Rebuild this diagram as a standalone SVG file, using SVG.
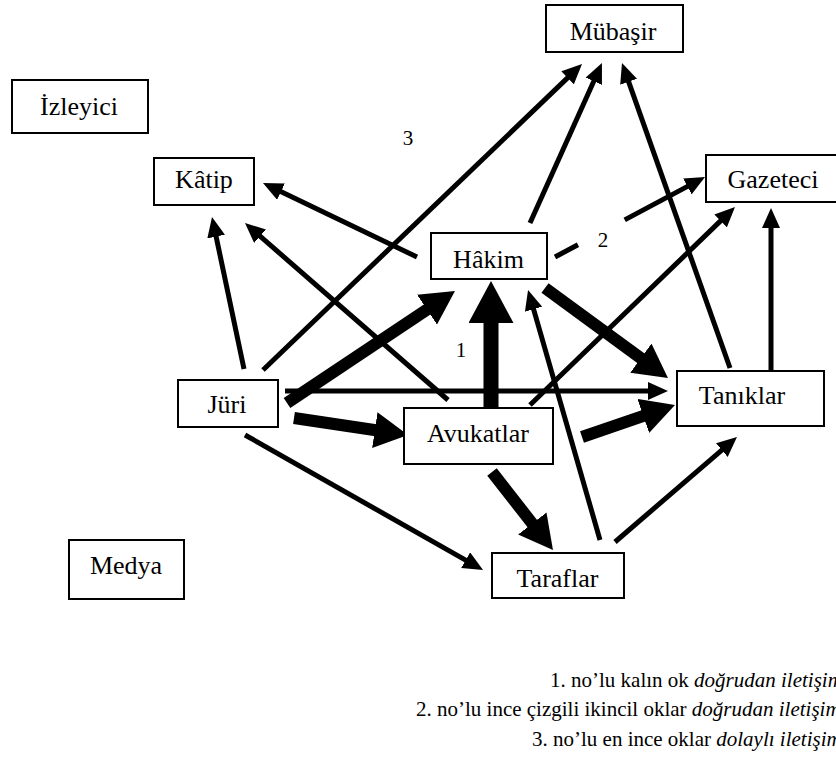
<svg xmlns="http://www.w3.org/2000/svg" width="836" height="769" viewBox="0 0 836 769">
<style>
.box{fill:#fff;stroke:#000;stroke-width:2}
.lbl{font-size:26px;fill:#000;text-anchor:middle}
.num{font-size:21px;fill:#000;text-anchor:middle}
.leg{font-size:21px;fill:#000}
.thin{stroke:#000;stroke-width:5;fill:none;marker-end:url(#ah)}
.thick{stroke:#000;stroke-width:12;fill:none;marker-end:url(#ahk)}
</style>
<defs>
<marker id="ah" viewBox="0 0 4 3.6" refX="1" refY="1.8" markerWidth="4" markerHeight="3.6" orient="auto" markerUnits="strokeWidth"><path d="M0,0 L4,1.8 L0,3.6 z" fill="#000"/></marker>
<marker id="ahk" viewBox="0 0 2.8 3" refX="0.8" refY="1.5" markerWidth="2.8" markerHeight="3" orient="auto" markerUnits="strokeWidth"><path d="M0,0 L2.8,1.5 L0,3 z" fill="#000"/></marker>
</defs>
<rect width="836" height="769" fill="#fff"/>
<g id="connectors">
<line class="thin" x1="263" y1="370" x2="571.2" y2="74.4"/>
<line class="thin" x1="244" y1="369" x2="215.1" y2="231.7"/>
<line class="thin" x1="417" y1="257" x2="276.5" y2="189.5"/>
<line class="thin" x1="448" y1="400" x2="256.3" y2="232.9"/>
<line class="thin" x1="285" y1="391" x2="653" y2="391"/>
<line class="thin" x1="245" y1="435" x2="470" y2="562.6"/>
<line class="thin" x1="600" y1="540" x2="532.2" y2="304.4"/>
<line class="thin" x1="615" y1="542" x2="725.6" y2="446.8"/>
<line class="thin" x1="771" y1="370" x2="771" y2="223"/>
<line class="thin" x1="730" y1="368" x2="627" y2="77.1"/>
<line class="thin" x1="530" y1="223" x2="595.8" y2="76.7"/>
<line class="thin" x1="530" y1="405" x2="724.2" y2="217.4"/>
<line class="thin" x1="555" y1="257" x2="691.8" y2="184.1" stroke-dasharray="26 53 200"/>
<line class="thick" x1="287" y1="403" x2="435" y2="304.3"/>
<line class="thick" x1="491" y1="407" x2="491" y2="311" style="stroke-width:15"/>
<line class="thick" x1="545" y1="288" x2="648.6" y2="363.8"/>
<line class="thick" x1="294" y1="418" x2="384.3" y2="431.5"/>
<line class="thick" x1="582" y1="437" x2="652.3" y2="412.8"/>
<line class="thick" x1="492" y1="472" x2="538.2" y2="531.1"/>
</g>
<g font-family="Liberation Serif, Times New Roman, DejaVu Serif, serif">
<g id="mubasir"><rect class="box" x="546" y="5" width="137" height="47"/><text class="lbl" x="613" y="40">Mübaşir</text></g>
<g id="gazeteci"><rect class="box" x="706" y="155" width="136" height="47"/><text class="lbl" x="773" y="188">Gazeteci</text></g>
<g id="izleyici"><rect class="box" x="12" y="80" width="136" height="53"/><text class="lbl" x="79" y="115">İzleyici</text></g>
<g id="katip"><rect class="box" x="154" y="158" width="100" height="47"/><text class="lbl" x="204" y="188">Kâtip</text></g>
<g id="hakim"><rect class="box" x="431" y="233" width="116" height="46"/><text class="lbl" x="488.5" y="268">Hâkim</text></g>
<g id="juri"><rect class="box" x="178" y="380" width="100" height="47"/><text class="lbl" x="227" y="413">Jüri</text></g>
<g id="avukatlar"><rect class="box" x="404" y="408" width="149" height="56"/><text class="lbl" x="478" y="442">Avukatlar</text></g>
<g id="taraflar"><rect class="box" x="492" y="553" width="132" height="45"/><text class="lbl" x="557.5" y="587">Taraflar</text></g>
<g id="taniklar"><rect class="box" x="677" y="371" width="147" height="55"/><text class="lbl" x="742" y="404">Tanıklar</text></g>
<g id="medya"><rect class="box" x="69" y="540" width="115" height="59"/><text class="lbl" x="126" y="574">Medya</text></g>
<g id="labels">
<text class="num" x="408" y="145">3</text>
<text class="num" x="461" y="357">1</text>
<text class="num" x="603" y="247">2</text>
</g>
<g id="legend">
<text class="leg" x="550" y="687">1. no’lu kalın ok <tspan font-style="italic">doğrudan iletişim</tspan></text>
<text class="leg" x="416" y="716">2. no’lu ince çizgili ikincil oklar <tspan font-style="italic">doğrudan iletişim</tspan></text>
<text class="leg" x="532" y="746">3. no’lu en ince oklar <tspan font-style="italic">dolaylı iletişim</tspan></text>
</g>
</g>
</svg>
